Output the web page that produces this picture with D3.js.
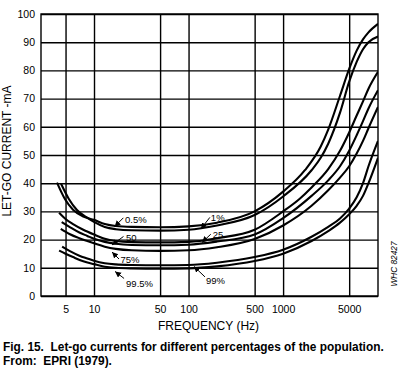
<!DOCTYPE html>
<html><head><meta charset="utf-8">
<script src="https://cdn.jsdelivr.net/npm/d3@7"></script>
<style>
body{margin:0;background:#fff;}
svg{display:block;}
text{font-family:"Liberation Sans",Arial,Helvetica,sans-serif;fill:#000;}
</style></head><body>
<svg id="chart" width="401" height="374"></svg>
<script>
// ---- data ----
const xTickValues = [5, 10, 50, 100, 500, 1000, 5000];
const yTickValues = [0, 10, 20, 30, 40, 50, 60, 70, 80, 90, 100];
const seriesNames = ["0.5%", "1%", "25", "50", "75%", "99%", "99.5%"];
const curve005 = [[4.06,40.2],[4.94,34.3],[6.0,30.6],[7.7,28.2],[10,27],[13,25.5],[17,24.8],[25,24.5],[50,24.4],[100,24.7],[200,26],[500,30],[1000,37],[1700,44.6],[2500,53],[3000,59],[4000,71],[5000,80.5],[6000,87],[7000,91],[8000,93.5],[10088,96.5]];
const curve01  = [[4.48,39.8],[5.4,34.5],[6.6,30.5],[8.3,28],[10,26.3],[13,24.5],[17,23.7],[25,23.3],[50,23.2],[100,23.5],[200,25],[500,28.7],[1000,35.3],[2000,44.6],[2500,49],[3000,54],[4000,65],[5000,76],[6000,83],[7000,87.5],[8000,90],[10088,92]];
const curve25  = [[4.27,29.5],[5,27.3],[6,25.5],[7.7,23.5],[10,21.8],[13,20.3],[17,19.5],[25,19.1],[50,19.0],[100,19.2],[200,20.5],[500,23.5],[1000,30],[1500,34.5],[2000,38.5],[3000,45],[4000,51.5],[5000,58],[6000,64],[7000,69],[8000,73.5],[10088,79.5]];
const curve50  = [[4.55,26.2],[5.5,24.5],[7,22.5],[8.5,21.3],[10,20.3],[13,19.2],[17,18.5],[25,18.1],[50,18.0],[100,18.2],[200,19.3],[500,21.8],[1000,27.6],[2000,35.5],[3000,41],[4000,46],[5000,51.5],[6000,57],[7000,62],[8000,66.5],[10088,73]];
const curve75  = [[4.45,23.8],[5.5,22],[7,20.5],[8.5,19.5],[10,18.7],[13,17.5],[17,16.7],[25,16.2],[50,16.0],[100,16.2],[200,17.3],[500,20.2],[1000,25],[2000,32],[3000,37.5],[4000,42],[5000,46],[6000,50.5],[7000,55],[8000,59.5],[10088,67]];
const curve99  = [[4.6,17.5],[5.5,16],[7,14.3],[8.5,13.3],[10,12.5],[13,11.6],[17,11.2],[25,11.0],[50,10.9],[100,11.0],[200,11.8],[500,13.8],[1000,16.4],[2000,21],[3000,24.5],[4000,27.5],[5000,31],[6000,35],[7000,40],[8000,46],[10088,55]];
const curve995 = [[4.27,16.1],[5,15],[6,13.8],[7.7,12.3],[10,11.3],[13,10.4],[17,10.0],[25,9.8],[50,9.7],[100,9.8],[200,10.5],[500,12.4],[1000,15],[2000,19.5],[3000,23],[4000,26],[5000,29],[6000,32],[7000,35.5],[8000,40],[10088,49]];
// label arrow targets (frequency, mA)
const labelTargets = [[16.5,24.6],[135,23.8],[139,19.0],[15.5,18.1],[15.5,15.6],[114,10.5],[16.7,8.7]];
const labelTexts = ["0.5%", "1%", "25", "50", "75%", "99%", "99.5%"];
const captionLines = ["Fig. 15.  Let-go currents for different percentages of the population.", "From:  EPRI (1979)."];

// ---- layout ----
const L = 41, R = 378, T = 14, B = 296;
const labelLayout = [ // [lineDx, lineDy, textDx, textDy]
  [8.8,-8.8,10.5,-3.5],
  [9,-11.5,10,-8.3],
  [8.7,-8.2,10.7,-4],
  [11.5,-8.5,14,-4],
  [7,7,8.5,11],
  [11,10.5,12,17.5],
  [9,7,11,15.5]
];

const svg = d3.select("#chart");
const x = d3.scaleLog().domain([2.75, 10088]).range([L, R]);
const y = d3.scaleLinear().domain([0, 100]).range([B, T]);

// grid + y labels
const gy = svg.append("g").attr("transform", `translate(${L},0)`)
  .call(d3.axisLeft(y).tickValues(yTickValues).tickSize(-(R - L)).tickPadding(6).tickFormat(d3.format("d")));
gy.select(".domain").remove();
gy.selectAll("line").attr("stroke", "#000").attr("stroke-width", 1.4);
gy.selectAll("text").attr("font-size", 10.5).attr("fill", "#000");

const gx = svg.append("g").attr("transform", `translate(0,${B})`)
  .call(d3.axisBottom(x).tickValues(xTickValues).tickSize(-(B - T)).tickPadding(10).tickFormat(d3.format("d")));
gx.select(".domain").remove();
gx.selectAll("line").attr("stroke", "#000").attr("stroke-width", 1.4);
gx.selectAll("text").attr("font-size", 10.5).attr("fill", "#000");

svg.append("rect").attr("x", L).attr("y", T).attr("width", R - L).attr("height", B - T)
  .attr("fill", "none").attr("stroke", "#000").attr("stroke-width", 1.4);

// curves
svg.append("clipPath").attr("id", "clip").append("rect")
  .attr("x", L).attr("y", T).attr("width", R - L).attr("height", B - T);
const line = d3.line().x(d => x(d[0])).y(d => y(d[1])).curve(d3.curveMonotoneX);
const allCurves = [curve005, curve01, curve25, curve50, curve75, curve99, curve995];
svg.append("g").attr("clip-path", "url(#clip)").selectAll("path").data(allCurves).join("path")
  .attr("d", line).attr("fill", "none").attr("stroke", "#000").attr("stroke-width", 2.1)
  .attr("stroke-linejoin", "round");

// arrow marker
svg.append("defs").append("marker").attr("id", "ah")
  .attr("markerUnits", "userSpaceOnUse").attr("markerWidth", 7).attr("markerHeight", 7)
  .attr("refX", 6).attr("refY", 3).attr("orient", "auto")
  .append("path").attr("d", "M0,0 L6,3 L0,6 Z").attr("fill", "#000");

const ann = svg.append("g");
labelTargets.forEach((t, i) => {
  const px = x(t[0]), py = y(t[1]);
  const lay = labelLayout[i];
  ann.append("line").attr("x1", px + lay[0]).attr("y1", py + lay[1]).attr("x2", px).attr("y2", py)
    .attr("stroke", "#000").attr("stroke-width", 1).attr("marker-end", "url(#ah)");
  ann.append("text").attr("x", px + lay[2]).attr("y", py + lay[3]).attr("font-size", 9.5).text(labelTexts[i]);
});

// axis titles
svg.append("text").attr("x", (L + R) / 2 - 1).attr("y", 329.5).attr("text-anchor", "middle")
  .attr("font-size", 12).text("FREQUENCY (Hz)");
svg.append("text").attr("transform", `translate(10.5,${(T + B) / 2 - 4}) rotate(-90)`).attr("text-anchor", "middle")
  .attr("font-size", 12).text("LET-GO CURRENT -mA");
svg.append("text").attr("transform", "translate(397,264) rotate(-90)").attr("text-anchor", "middle")
  .attr("font-size", 9).attr("font-style", "italic").attr("textLength", 45).attr("lengthAdjust", "spacingAndGlyphs")
  .text("WHC 82427");

// caption: squeeze horizontally by a transform so it fits its width
function caption(str, yPos, width) {
  const t = svg.append("text").attr("font-size", 12.5).attr("font-weight", "bold")
    .style("white-space", "pre").text(str);
  const w = t.node().getComputedTextLength();
  t.attr("transform", `translate(3,${yPos}) scale(${width / w},1)`);
}
caption(captionLines[0], 350.5, 381);
caption(captionLines[1], 364.5, 109);
</script>
</body></html>
